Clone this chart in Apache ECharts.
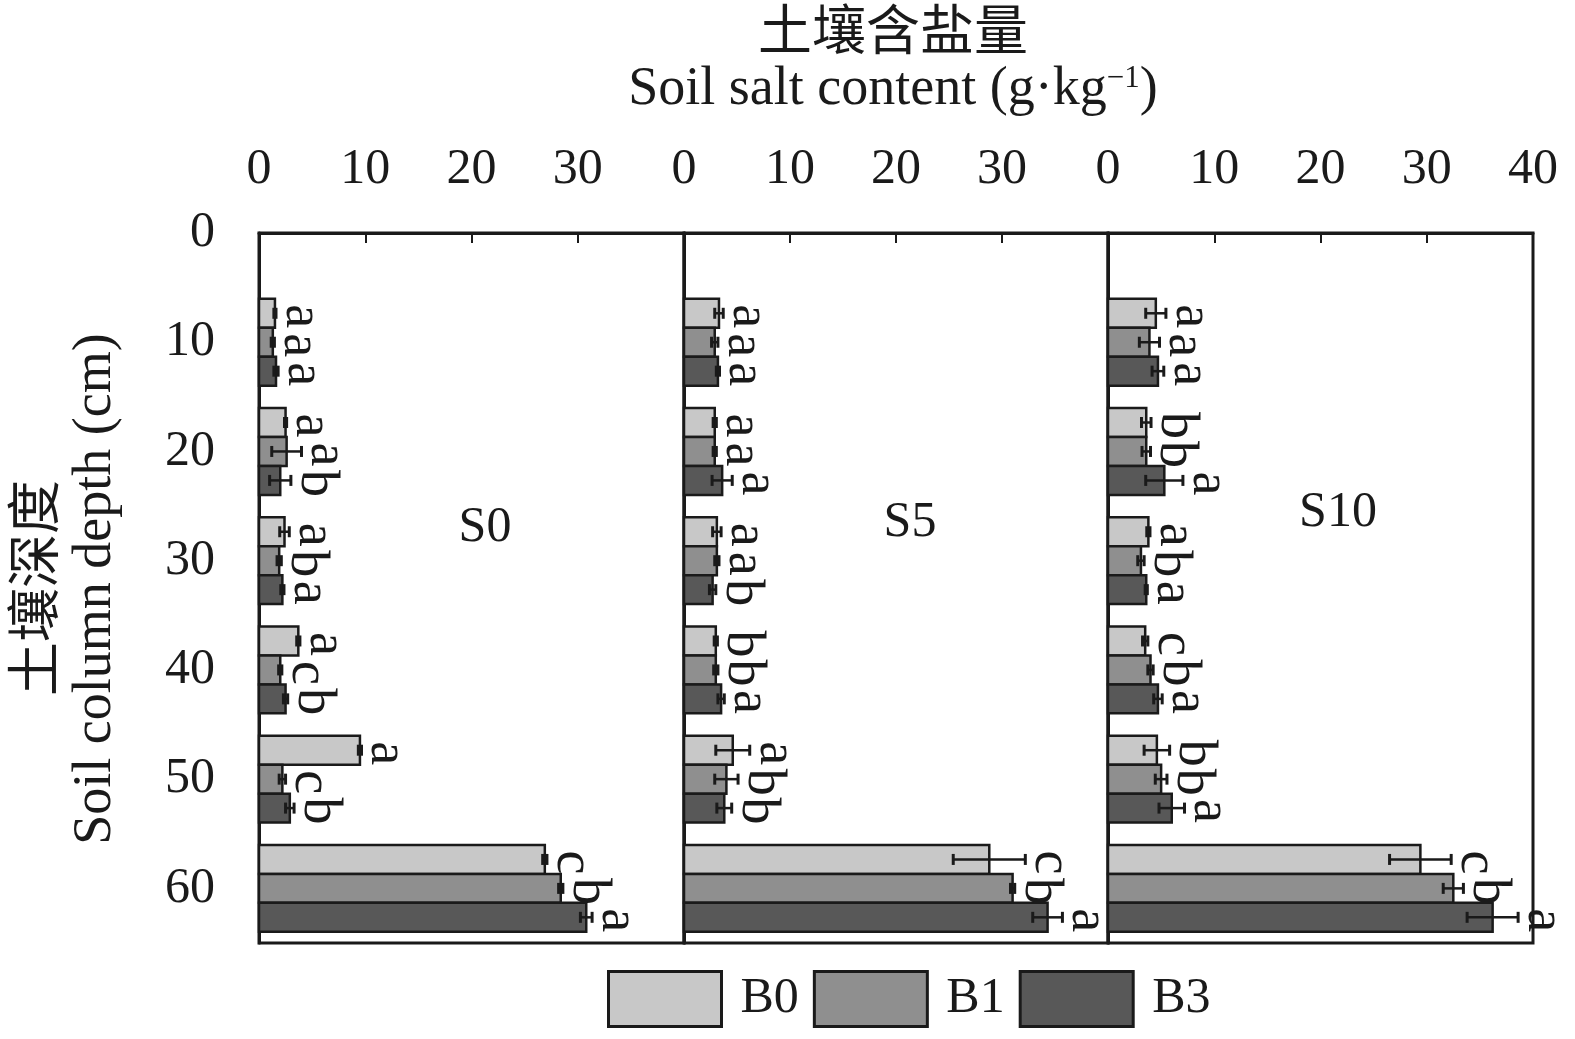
<!DOCTYPE html>
<html>
<head>
<meta charset="utf-8">
<script src="https://cdn.jsdelivr.net/npm/echarts@6/dist/echarts.min.js"></script>
<style>html,body{margin:0;padding:0;background:#fff;}#c{width:1575px;height:1039px;}</style>
</head>
<body>
<div id="c"></div>
<script>
// ---- data ----
const depths = [10, 20, 30, 40, 50, 60];
const panels = ['S0', 'S5', 'S10'];
const groups = ['B0', 'B1', 'B3'];
const depthTicks = [0, 10, 20, 30, 40, 50, 60];
const saltTicks = [0, 10, 20, 30, 40];

// S0
const s0B0 = [1.5, 2.5, 2.4, 3.7, 9.5, 26.9];
const s0B1 = [1.3, 2.6, 1.9, 2.0, 2.2, 28.4];
const s0B3 = [1.6, 2.0, 2.2, 2.5, 2.9, 30.8];
const s0B0Err = [0.1, 0.1, 0.45, 0.15, 0.15, 0.2];
const s0B1Err = [0.15, 1.4, 0.2, 0.15, 0.3, 0.2];
const s0B3Err = [0.2, 1.0, 0.15, 0.2, 0.4, 0.55];
const s0B0Sig = ['a', 'a', 'a', 'a', 'a', 'c'];
const s0B1Sig = ['a', 'a', 'b', 'c', 'c', 'b'];
const s0B3Sig = ['a', 'b', 'a', 'b', 'b', 'a'];

// S5
const s5B0 = [3.3, 2.9, 3.1, 3.0, 4.6, 28.8];
const s5B1 = [2.9, 2.9, 3.1, 3.0, 4.0, 31.0];
const s5B3 = [3.2, 3.6, 2.7, 3.5, 3.8, 34.3];
const s5B0Err = [0.4, 0.15, 0.4, 0.15, 1.6, 3.4];
const s5B1Err = [0.3, 0.15, 0.2, 0.2, 1.1, 0.2];
const s5B3Err = [0.15, 0.95, 0.3, 0.3, 0.7, 1.4];
const s5B0Sig = ['a', 'a', 'a', 'b', 'a', 'c'];
const s5B1Sig = ['a', 'a', 'a', 'b', 'b', 'b'];
const s5B3Sig = ['a', 'a', 'b', 'a', 'b', 'a'];

// S10
const s10B0 = [4.5, 3.6, 3.8, 3.5, 4.6, 29.4];
const s10B1 = [3.9, 3.6, 3.1, 4.0, 5.0, 32.5];
const s10B3 = [4.7, 5.3, 3.6, 4.7, 6.0, 36.2];
const s10B0Err = [0.95, 0.45, 0.15, 0.25, 1.2, 2.9];
const s10B1Err = [0.95, 0.4, 0.3, 0.25, 0.55, 0.95];
const s10B3Err = [0.55, 1.75, 0.1, 0.4, 1.2, 2.4];
const s10B0Sig = ['a', 'b', 'a', 'c', 'b', 'c'];
const s10B1Sig = ['a', 'b', 'b', 'b', 'b', 'b'];
const s10B3Sig = ['a', 'a', 'a', 'a', 'a', 'a'];

const panelValues = [[s0B0, s0B1, s0B3], [s5B0, s5B1, s5B3], [s10B0, s10B1, s10B3]];
const panelErrors = [[s0B0Err, s0B1Err, s0B3Err], [s5B0Err, s5B1Err, s5B3Err], [s10B0Err, s10B1Err, s10B3Err]];
const panelSigs = [[s0B0Sig, s0B1Sig, s0B3Sig], [s5B0Sig, s5B1Sig, s5B3Sig], [s10B0Sig, s10B1Sig, s10B3Sig]];

// ---- style ----
const FONT = "'Liberation Serif', 'Noto Sans CJK SC', serif";
const colors = ['#c8c8c8', '#8f8f8f', '#585858'];
const INK = '#1a1a1a';
const BAR_UNITS = 2.65; // bar thickness in depth units
const gridLefts = [259, 684, 1108];
const gridWidths = [425, 424, 425];

const chart = echarts.init(document.getElementById('c'), null, {renderer: 'canvas'});

const grids = [], xAxes = [], yAxes = [], series = [];
for (let p = 0; p < 3; p++) {
  grids.push({left: gridLefts[p], width: gridWidths[p], top: 233, height: 710,
    show: true, borderColor: INK, borderWidth: 3, backgroundColor: 'transparent'});
  xAxes.push({
    gridIndex: p, type: 'value', position: 'top', min: saltTicks[0], max: saltTicks[saltTicks.length - 1], interval: 10,
    axisLine: {show: true, lineStyle: {color: INK, width: 3}},
    axisTick: {show: true, inside: true, length: 10, lineStyle: {color: INK, width: 2}},
    axisLabel: {show: true, margin: 38, fontSize: 50, color: INK, fontFamily: FONT, showMaxLabel: p === 2},
    splitLine: {show: false}
  });
  yAxes.push({
    gridIndex: p, type: 'value', inverse: true, min: 0, max: 65, interval: 10,
    axisLine: {show: true, lineStyle: {color: INK, width: 3}},
    axisTick: {show: true, inside: true, length: 9, lineStyle: {color: INK, width: 2}},
    axisLabel: {show: p === 0, margin: 44, fontSize: 50, color: INK, fontFamily: FONT, showMaxLabel: false},
    splitLine: {show: false}
  });
  for (let k = 0; k < 3; k++) {
    const vals = panelValues[p][k], errs = panelErrors[p][k], sigs = panelSigs[p][k];
    const data = depths.map((d, i) => [vals[i], d, errs[i]]);
    const color = colors[k];
    series.push({
      type: 'custom', name: groups[k], xAxisIndex: p, yAxisIndex: p,
      itemStyle: {color: color, borderColor: INK, borderWidth: 2.5},
      encode: {x: 0, y: 1},
      data: data,
      renderItem: function (params, api) {
        const v = api.value(0), d = api.value(1), e = api.value(2);
        const bh = api.size([0, BAR_UNITS])[1];
        const base = api.coord([0, d]);
        const yc = base[1] + (k - 1) * bh;
        const x0 = base[0];
        const x1 = api.coord([v, d])[0];
        const xl = api.coord([v - e, d])[0];
        const xr = api.coord([v + e, d])[0];
        const cap = 11;
        return {
          type: 'group',
          children: [
            {type: 'rect', shape: {x: x0, y: yc - bh / 2, width: x1 - x0, height: bh},
              style: {fill: color, stroke: INK, lineWidth: 2.5}},
            {type: 'line', shape: {x1: xl, y1: yc, x2: xr, y2: yc}, style: {stroke: INK, lineWidth: 2.5}},
            {type: 'line', shape: {x1: xl, y1: yc - cap / 2, x2: xl, y2: yc + cap / 2}, style: {stroke: INK, lineWidth: 3}},
            {type: 'line', shape: {x1: xr, y1: yc - cap / 2, x2: xr, y2: yc + cap / 2}, style: {stroke: INK, lineWidth: 3}},
            {type: 'text', x: Math.max(x1, xr) + 25, y: yc + 3, rotation: -Math.PI / 2,
              style: {text: sigs[params.dataIndex], fill: INK, font: '54px ' + FONT, align: 'center', verticalAlign: 'middle'}}
          ]
        };
      }
    });
  }
}

const option = {
  backgroundColor: '#fff',
  animation: false,
  grid: grids, xAxis: xAxes, yAxis: yAxes, series: series,
  legend: {
    data: groups, left: 607, top: 970, itemWidth: 113, itemHeight: 55, itemGap: 14, icon: 'rect', padding: 0,
    itemStyle: {borderColor: INK, borderWidth: 3},
    textStyle: {fontSize: 50, color: INK, fontFamily: FONT, padding: [4, 0, 0, 14]}
  },
  graphic: [
    {type: 'text', x: 893, y: 36, style: {text: '土壤含盐量', font: '54px ' + FONT, fill: INK, align: 'center', verticalAlign: 'middle'}},
    {type: 'text', x: 893, y: 90, style: {
      text: 'Soil salt content (g·kg{sup|−1})', align: 'center', verticalAlign: 'middle',
      font: '54px ' + FONT, fill: INK,
      rich: {sup: {fontSize: 31, fontFamily: FONT, verticalAlign: 'top', padding: [0, 0, 22, 0], fill: INK}}
    }},
    {type: 'text', x: 40, y: 588, rotation: Math.PI / 2, style: {text: '土壤深度', font: '54px ' + FONT, fill: INK, align: 'center', verticalAlign: 'middle'}},
    {type: 'text', x: 96, y: 589, rotation: Math.PI / 2, style: {text: 'Soil column depth (cm)', font: '54px ' + FONT, fill: INK, align: 'center', verticalAlign: 'middle'}},
    {type: 'text', x: 485, y: 528, style: {text: panels[0], font: '50px ' + FONT, fill: INK, align: 'center', verticalAlign: 'middle'}},
    {type: 'text', x: 910, y: 523, style: {text: panels[1], font: '50px ' + FONT, fill: INK, align: 'center', verticalAlign: 'middle'}},
    {type: 'text', x: 1338, y: 513, style: {text: panels[2], font: '50px ' + FONT, fill: INK, align: 'center', verticalAlign: 'middle'}}
  ]
};
chart.setOption(option);
</script>
</body>
</html>
